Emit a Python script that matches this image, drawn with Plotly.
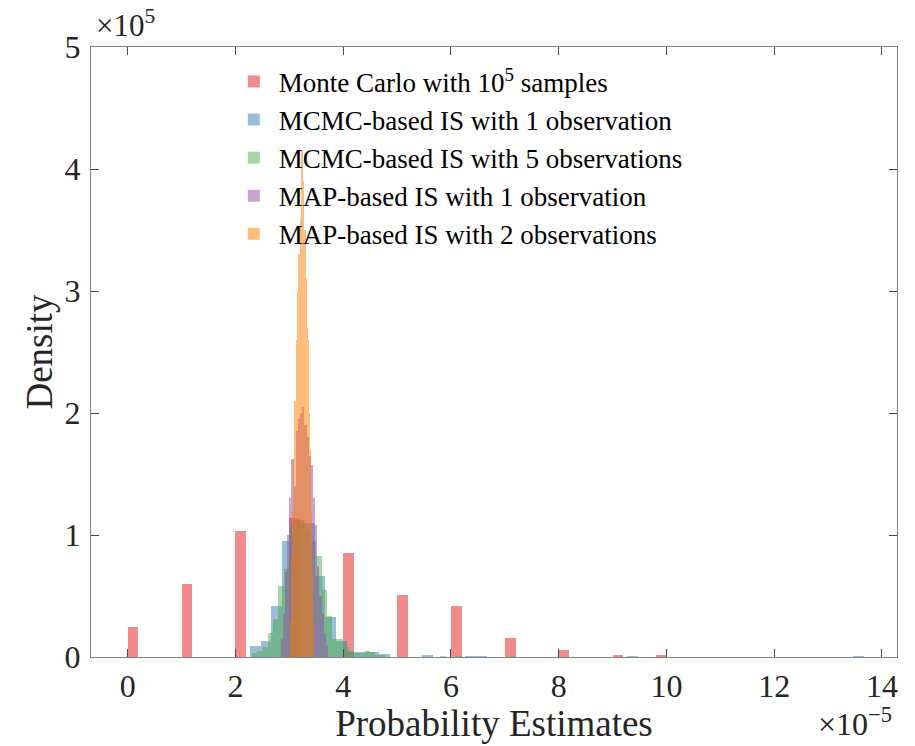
import plotly.graph_objects as go

# ---- Data (x in units of 1e-5, density in units of 1e5) ----
mc_bin_width = 0.2
mc_bin_left = [0, 1, 2, 3, 4, 5, 6, 7, 8, 9, 9.8]
mc_density = [0.247, 0.60, 1.03, 1.14, 0.852, 0.507, 0.414, 0.155, 0.06, 0.02, 0.015]

mcmc1_bin_width = 0.2
mcmc1_bin_left = [2.27, 2.47, 2.67, 2.87, 3.07, 3.27, 3.47, 3.67, 3.87, 4.07, 4.27, 4.47, 4.67,
                  5.47, 6.27, 6.47, 9.27, 13.47]
mcmc1_density = [0.087, 0.13, 0.42, 0.95, 1.12, 1.10, 0.66, 0.33, 0.13, 0.04, 0.045, 0.04, 0.025,
                 0.01, 0.006, 0.006, 0.005, 0.005]

mcmc5_bin_width = 0.1
mcmc5_bin_left = [2.3, 2.4, 2.5, 2.6, 2.7, 2.8, 2.9, 3.0, 3.1, 3.2, 3.3, 3.4, 3.5, 3.6, 3.7,
                  3.8, 3.9, 4.0, 4.1, 4.2, 4.3, 4.4, 4.5, 4.6, 4.7, 5.8, 6.1, 7.1]
mcmc5_density = [0.03, 0.05, 0.08, 0.20, 0.31, 0.58, 0.72, 1.08, 1.10, 1.10, 1.05, 0.95, 0.83, 0.55, 0.34,
                 0.15, 0.15, 0.08, 0.05, 0.03, 0.03, 0.05, 0.04, 0.02, 0.01, 0.006, 0.008, 0.006]

map1_bin_width = 0.04
map1_bin_left = [2.84, 2.88, 2.92, 2.96, 3.00, 3.04, 3.08, 3.12, 3.16, 3.20, 3.24,
                 3.28, 3.32, 3.36, 3.40, 3.44, 3.48, 3.52, 3.56, 3.60, 3.64, 3.68]
map1_density = [0.15, 0.35, 0.70, 1.00, 1.30, 1.62, 1.40, 1.85, 1.95, 2.00, 2.05,
                1.90, 1.80, 1.65, 1.57, 1.30, 1.08, 0.75, 0.50, 0.35, 0.20, 0.10]

map2_bin_width = 0.02
map2_bin_left = [3.02, 3.04, 3.06, 3.08, 3.10, 3.12, 3.14, 3.16, 3.18, 3.20, 3.22,
                 3.24, 3.26, 3.28, 3.30, 3.32, 3.34, 3.36, 3.38, 3.40, 3.42, 3.44]
map2_density = [0.30, 0.80, 1.20, 1.60, 2.10, 2.00, 2.60, 3.00, 3.30, 3.60, 4.15,
                3.90, 3.40, 3.50, 3.10, 2.70, 2.60, 2.00, 1.70, 1.20, 0.70, 0.30]

series_names = [
    "Monte Carlo with 10<sup>5</sup> samples",
    "MCMC-based IS with 1 observation",
    "MCMC-based IS with 5 observations",
    "MAP-based IS with 1 observation",
    "MAP-based IS with 2 observations",
]
series_colors = ["#E41A1C", "#377EB8", "#4DAF4A", "#984EA3", "#FF7F00"]

x_ticks = [0, 2, 4, 6, 8, 10, 12, 14]
y_ticks = [0, 1, 2, 3, 4, 5]

FONT = "Liberation Serif"
TEXT_COLOR = "rgb(38,38,38)"

series = [
    (mc_bin_left, mc_density, mc_bin_width),
    (mcmc1_bin_left, mcmc1_density, mcmc1_bin_width),
    (mcmc5_bin_left, mcmc5_density, mcmc5_bin_width),
    (map1_bin_left, map1_density, map1_bin_width),
    (map2_bin_left, map2_density, map2_bin_width),
]

fig = go.Figure()
for (left, dens, w), name, color in zip(series, series_names, series_colors):
    fig.add_trace(go.Bar(
        x=left, y=dens, width=w, offset=0, name=name,
        marker=dict(color=color, line=dict(width=0)),
        opacity=0.5,
    ))

axis_common = dict(
    showline=True, linecolor="rgb(130,130,130)", linewidth=1.2, mirror="ticks",
    ticks="inside", ticklen=8, tickwidth=1, tickcolor="rgb(70,70,70)",
    showgrid=False, zeroline=False, automargin=False,
    tickfont=dict(family=FONT, size=32, color=TEXT_COLOR),
)

fig.update_layout(
    width=915, height=746, autosize=False,
    margin=dict(l=91, r=18, t=47, b=89),
    paper_bgcolor="white", plot_bgcolor="white",
    barmode="overlay", bargap=0,
    font=dict(family=FONT, color="black"),
    xaxis=dict(range=[-0.68, 14.28], tickvals=x_ticks, ticklabelstandoff=0,
               title=dict(text="Probability Estimates", font=dict(family=FONT, size=37, color=TEXT_COLOR), standoff=0),
               **axis_common),
    yaxis=dict(range=[0, 5], tickvals=y_ticks, ticklabelstandoff=3,
               title=dict(text="Density", font=dict(family=FONT, size=37, color=TEXT_COLOR), standoff=0),
               **axis_common),
    legend=dict(x=0.171, y=0.983, xanchor="left", yanchor="top",
                bgcolor="rgba(0,0,0,0)", borderwidth=0,
                font=dict(family=FONT, size=27, color="black"),
                itemwidth=40, tracegroupgap=0),
    showlegend=True,
    annotations=[
        dict(text="×10<sup>5</sup>", xref="paper", yref="paper", x=0.004, y=1.0,
             xanchor="left", yanchor="bottom", showarrow=False, yshift=2,
             font=dict(family=FONT, size=31, color=TEXT_COLOR)),
        dict(text="×10<sup>−5</sup>", xref="paper", yref="paper", x=0.996, y=0.0,
             xanchor="right", yanchor="top", showarrow=False, yshift=-43,
             font=dict(family=FONT, size=32, color=TEXT_COLOR)),
    ],
)

fig.write_html("out.html")
